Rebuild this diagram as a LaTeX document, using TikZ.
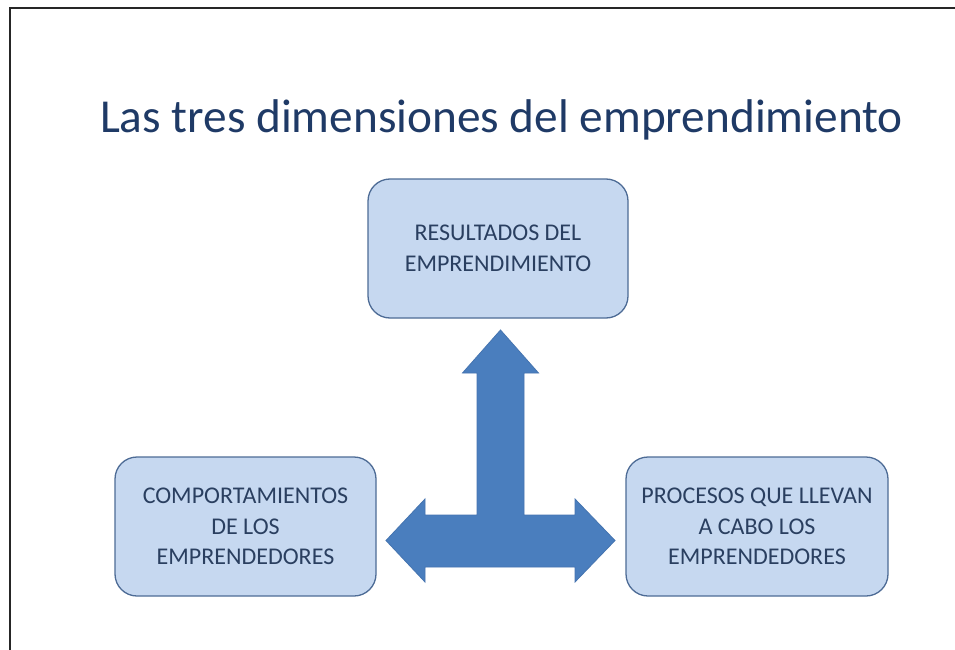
\documentclass[tikz,border=0pt]{standalone}
\usepackage{fontspec}
\setmainfont{Carlito}
\definecolor{titleblue}{HTML}{1F3A66}
\definecolor{boxfill}{HTML}{C6D8F0}
\definecolor{boxline}{HTML}{4E6C96}
\definecolor{boxtext}{HTML}{2A3F60}
\definecolor{arrowblue}{HTML}{4A7EBE}
\definecolor{arrowline}{HTML}{4574B0}
\begin{document}
\begin{tikzpicture}[x=1pt,y=-1pt,
  dimbox/.style={draw=boxline, line width=1.3pt, fill=boxfill, rounded corners=22pt,
    minimum width=260pt, minimum height=139pt, align=center, text=boxtext,
    font=\fontsize{24}{30.5}\selectfont, inner sep=0pt},
  frameline/.style={draw=black!85, line width=2pt},
  bigarrow/.style={fill=arrowblue, draw=arrowline, line width=0.8pt, line join=miter}]
\useasboundingbox (0,0) rectangle (955,650);
\fill[white] (0,0) rectangle (955,650);
\draw[frameline] (9.5,650) -- (9.5,8) -- (955,8);
\node[anchor=base, text=titleblue, font=\fontsize{47.3}{50}\selectfont, inner sep=0pt] (title) at (501.5,132) {Las tres dimensiones del emprendimiento};
\node[dimbox] (res) at (498,248.5) {RESULTADOS DEL\\EMPRENDIMIENTO};
\node[dimbox, minimum width=261pt] (comp) at (245.5,526.5) {COMPORTAMIENTOS\\DE LOS\\EMPRENDEDORES};
\node[dimbox, minimum width=262pt] (proc) at (757,526.5) {PROCESOS QUE LLEVAN\\A CABO LOS\\EMPRENDEDORES};
\coordinate (tipU) at (500.5,330);
\coordinate (tipL) at (386,540.5);
\coordinate (tipR) at (615,540.5);
\draw[bigarrow] (tipU) -- (538.5,373) -- (524,373) -- (524,515) -- (575,515) -- (575,499)
  -- (tipR) -- (575,582) -- (575,567) -- (425,567) -- (425,582) -- (tipL)
  -- (425,499) -- (425,515) -- (477,515) -- (477,373) -- (462.5,373) -- cycle;
\end{tikzpicture}
\end{document}
